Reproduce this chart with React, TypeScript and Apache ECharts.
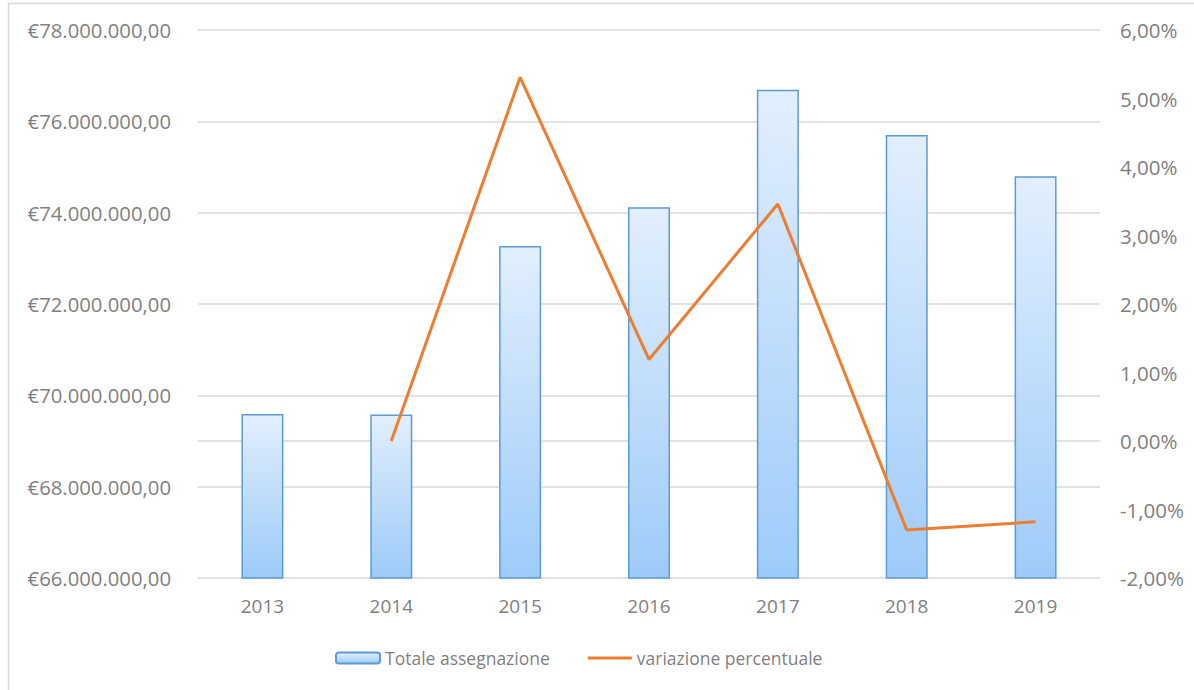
import React, { useEffect, useRef } from "react";
import * as echarts from "echarts";

const categories = ["2013", "2014", "2015", "2016", "2017", "2018", "2019"];
const totaleAssegnazione = [69590000, 69580000, 73270000, 74120000, 76690000, 75700000, 74800000];
const variazionePercentuale = [null, 0.0, 0.0531, 0.0119, 0.0346, -0.013, -0.0118];
const leftTicks = { min: 66000000, max: 78000000, interval: 2000000 };
const rightTicks = { min: -0.02, max: 0.06, interval: 0.01 };

const FONT = "'Open Sans', sans-serif";
const GREY = "#7f7f7f";

function fmtEuro(v: number): string {
  const s = Math.round(v).toString().replace(/\B(?=(\d{3})+(?!\d))/g, ".");
  return "€" + s + ",00";
}
function fmtPct(v: number): string {
  return (v * 100).toFixed(2).replace(".", ",") + "%";
}

export default function App() {
  const ref = useRef<HTMLDivElement>(null);
  useEffect(() => {
    document.body.style.margin = "0";
    const chart = echarts.init(ref.current!, null, { renderer: "svg" });
    const barGradient = new echarts.graphic.LinearGradient(0, 0, 0, 1, [
      { offset: 0, color: "#e2effd" },
      { offset: 1, color: "#9dcbf9" },
    ]);
    chart.setOption({
      animation: false,
      backgroundColor: "#ffffff",
      textStyle: { fontFamily: FONT },
      graphic: [
        {
          type: "rect",
          shape: { x: 8.5, y: 3.5, width: 1200, height: 700 },
          style: { fill: "none", stroke: "#d9d9d9", lineWidth: 1.5 },
          silent: true,
          z: -10,
        },
      ],
      grid: { left: 198, right: 94, top: 30, bottom: 112 },
      legend: {
        top: 644,
        left: 330,
        itemWidth: 44,
        itemHeight: 11,
        itemGap: 38,
        textStyle: { color: GREY, fontSize: 17.5, fontFamily: FONT },
        data: [
          { name: "Totale assegnazione" },
          {
            name: "variazione percentuale",
            icon: "path://M0 0H44V3H0Z",
            itemStyle: { color: "#ed7d31" },
          },
        ],
      },
      xAxis: {
        type: "category",
        data: categories,
        axisLine: { lineStyle: { color: "#d9d9d9", width: 1.5 } },
        axisTick: { show: false },
        axisLabel: { color: GREY, fontSize: 19, fontFamily: FONT, margin: 18 },
      },
      yAxis: [
        {
          type: "value",
          min: leftTicks.min,
          max: leftTicks.max,
          interval: leftTicks.interval,
          axisLine: { show: false },
          axisTick: { show: false },
          splitLine: { lineStyle: { color: "#d9d9d9", width: 1.5 } },
          axisLabel: {
            color: GREY,
            fontSize: 20.3,
            fontFamily: FONT,
            margin: 27,
            formatter: (v: number) => fmtEuro(v),
          },
        },
        {
          type: "value",
          min: rightTicks.min,
          max: rightTicks.max,
          interval: rightTicks.interval,
          axisLine: { show: false },
          axisTick: { show: false },
          splitLine: { show: false },
          axisLabel: {
            color: GREY,
            fontSize: 20.5,
            fontFamily: FONT,
            margin: 20,
            formatter: (v: number) => fmtPct(v),
          },
        },
      ],
      series: [
        {
          name: "Totale assegnazione",
          type: "bar",
          data: totaleAssegnazione,
          barWidth: 42,
          itemStyle: {
            color: barGradient,
            borderColor: "#5b9bd5",
            borderWidth: 1.5,
          },
        },
        {
          name: "variazione percentuale",
          type: "line",
          yAxisIndex: 1,
          data: variazionePercentuale,
          symbol: "none",
          lineStyle: { color: "#ed7d31", width: 3 },
          itemStyle: { color: "#ed7d31" },
        },
      ],
    });
    return () => chart.dispose();
  }, []);
  return <div ref={ref} style={{ width: 1194, height: 690 }} />;
}
